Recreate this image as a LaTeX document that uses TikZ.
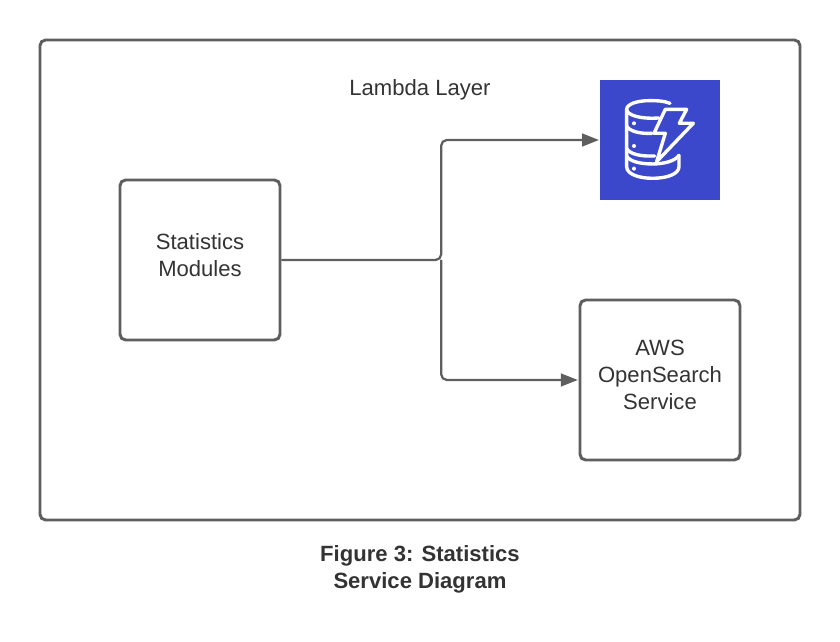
\documentclass[tikz,border=0pt]{standalone}
\usepackage{fontspec}
\setmainfont{Liberation Sans}
\usetikzlibrary{arrows.meta}
\definecolor{linegray}{HTML}{5E5E5E}
\definecolor{textgray}{HTML}{333333}
\definecolor{dynamoblue}{HTML}{3B48CC}
\begin{document}
\begin{tikzpicture}[
  every node/.style={font=\fontsize{15.7}{18.9}\selectfont, text=textgray, align=center},
  layerbox/.style={draw=linegray, rounded corners=4pt, line width=2.1pt, inner sep=0pt, minimum width=19cm, minimum height=12cm},
  modbox/.style={draw=linegray, rounded corners=4pt, line width=2.1pt, inner sep=0pt, minimum size=4cm},
  iconbox/.style={fill=dynamoblue, inner sep=0pt, minimum size=3cm},
  flow/.style={draw=linegray, line width=1.6pt, rounded corners=4pt},
  flowtip/.style={-{Triangle[length=12pt, width=9pt]}, shorten >=0.5pt},
  iconline/.style={draw=white, line width=2.4pt, line cap=round, line join=round},
]
  \useasboundingbox (0, 0) rectangle (21, 16.05);
  % Nodes
  \node[layerbox] (layer) at (10.5, 9.05) {};
  \node (layertitle) at (10.5, 13.8) {Lambda Layer};
  \node[modbox] (stats) at (5, 9.55) {Statistics\\Modules\\[-11.6pt]};
  \node[iconbox] (dynamo) at (16.5, 12.55) {};
  \node[modbox] (search) at (16.5, 6.55) {AWS\\OpenSearch\\Service\\[-11.6pt]};
  \coordinate (split) at (11.03, 9.55);
  % Caption
  \node[font=\fontsize{15.7}{18.9}\selectfont\bfseries] (caption) at (10.5, 1.82) {Figure 3: Statistics\\Service Diagram};
  % Edges
  \draw[flow, flowtip] (stats.east) -- (split) |- (dynamo.west);
  \draw[flow, flowtip] (split) |- (search.west);
  % Icon, in the pixels of a 3x crop
  \begin{scope}[shift={(14.75, 14.3)}, x=0.008333cm, y=-0.008333cm]
    \draw[iconline] (240,100) .. controls (220,92) and (200,92) .. (178,92)
      .. controls (140,92) and (110,103) .. (110,118) -- (110,290)
      .. controls (110,312) and (145,325) .. (188,325)
      .. controls (232,325) and (267,312) .. (267,290) -- (267,256);
    \draw[iconline] (110,118) .. controls (110,135) and (150,148) .. (206,144);
    \draw[iconline] (110,168) .. controls (118,184) and (150,192) .. (186,190);
    \draw[iconline] (110,236) .. controls (120,252) and (150,260) .. (194,258);
    \draw[iconline] (110,258) .. controls (118,274) and (150,282) .. (188,282)
      .. controls (220,282) and (255,274) .. (267,256);
    \draw[iconline] (226,118) -- (290,118) -- (268,160) -- (310,160) -- (200,275) -- (226,190) -- (192,190) -- cycle;
    \fill[white] (132,160) circle (6);
    \fill[white] (132,228) circle (6);
    \fill[white] (132,296) circle (6);
  \end{scope}
\end{tikzpicture}
\end{document}
